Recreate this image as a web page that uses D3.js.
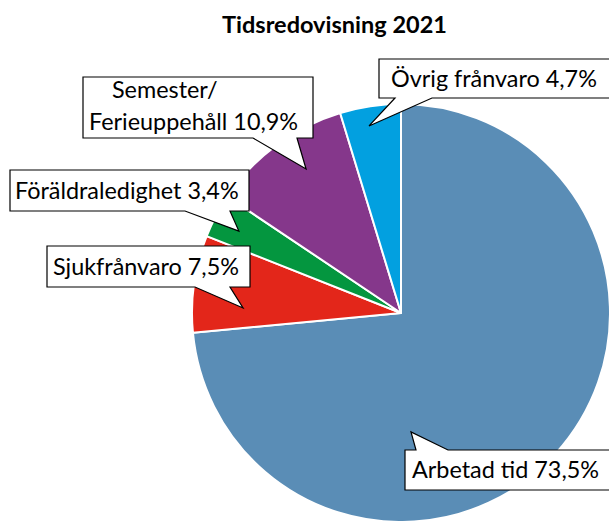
<!DOCTYPE html>
<html>
<head>
<meta charset="utf-8">
<title>Tidsredovisning 2021</title>
<script src="https://cdn.jsdelivr.net/npm/d3@7"></script>
<style>
  body { margin: 0; background: #fff; }
  text { font-family: Lato, "Open Sans", sans-serif; fill: #000; }
</style>
</head>
<body>
<script>

// data
var categories = ["Arbetad tid", "Sjukfrånvaro", "Föräldraledighet", "Semester/\nFerieuppehåll", "Övrig frånvaro"];
var values = [73.5, 7.5, 3.4, 10.9, 4.7];
var colors = ["#5a8db6", "#e3261a", "#04963f", "#85378b", "#02a0e0"];

// callout layout (box, pointer base on box edge, tip as angle/radius of the pie)
var callouts = [
  {x: 405, y: 450, w: 220, h: 40, edge: "top",    b0: 416, b1: 448, ang: 175.2, rf: 0.571, tx: 7,  lines: 1},
  {x: 47,  y: 246, w: 203, h: 41, edge: "bottom", b0: 195, b1: 230, ang: 271.8, rf: 0.756, tx: 6,  lines: 1},
  {x: 10,  y: 170, w: 239, h: 41, edge: "bottom", b0: 185, b1: 230, ang: 296.8, rf: 0.869, tx: 5,  lines: 1},
  {x: 83,  y: 77,  w: 230, h: 61, edge: "bottom", b0: 253, b1: 297, ang: 326.6, rf: 0.825, tx: 6,  lines: 2},
  {x: 379, y: 59,  w: 240, h: 39, edge: "bottom", b0: 395, b1: 432, ang: 350.3, rf: 0.908, tx: 12, lines: 1}
];

var width = 609, height = 521;
var cx = 401, cy = 313, radius = 209;
var fontSize = "23.4px";

var fmt = function(v) { return d3.format(".1f")(v).replace(".", ",") + "%"; };

var svg = d3.select("body")
  .append("svg")
    .attr("width", width)
    .attr("height", height);

svg.append("text")
  .attr("x", 334.5)
  .attr("y", 33)
  .attr("text-anchor", "middle")
  .style("font-weight", "bold")
  .style("font-size", "23.5px")
  .text("Tidsredovisning 2021");

var pie = d3.pie().sort(null).value(function(d) { return d; });
var arc = d3.arc().innerRadius(0).outerRadius(radius);
var arcs = pie(values);

var g = svg.append("g")
  .attr("transform", "translate(" + cx + "," + cy + ")");

g.selectAll("path.slice")
  .data(arcs)
  .enter().append("path")
    .attr("class", "slice")
    .attr("d", arc)
    .attr("fill", function(d, i) { return colors[i]; })
    .attr("stroke", "#fff")
    .attr("stroke-width", 2)
    .attr("stroke-linejoin", "round");

// callouts
callouts.forEach(function(c, i) {
  var p = d3.pointRadial(c.ang * Math.PI / 180, c.rf * radius);
  var tx = cx + p[0], ty = cy + p[1];
  var path;
  if (c.edge == "top") {
    path = "M" + c.x + "," + c.y + "L" + c.b0 + "," + c.y + "L" + tx + "," + ty +
      "L" + c.b1 + "," + c.y + "L" + (c.x + c.w) + "," + c.y + "L" + (c.x + c.w) + "," + (c.y + c.h) +
      "L" + c.x + "," + (c.y + c.h) + "Z";
  } else {
    path = "M" + c.x + "," + c.y + "L" + (c.x + c.w) + "," + c.y + "L" + (c.x + c.w) + "," + (c.y + c.h) +
      "L" + c.b1 + "," + (c.y + c.h) + "L" + tx + "," + ty + "L" + c.b0 + "," + (c.y + c.h) +
      "L" + c.x + "," + (c.y + c.h) + "Z";
  }
  svg.append("path")
    .attr("d", path)
    .attr("fill", "#fff")
    .attr("stroke", "#000")
    .attr("stroke-width", 1.2)
    .attr("stroke-linejoin", "miter");

  var parts = categories[i].split("\n");
  parts[parts.length - 1] += " " + fmt(values[i]);
  if (parts.length == 1) {
    svg.append("text")
      .attr("x", c.x + c.tx)
      .attr("y", c.y + c.h / 2 + 8.3)
      .style("font-size", fontSize)
      .text(parts[0]);
  } else {
    svg.append("text")
      .attr("x", c.x + 29)
      .attr("y", c.y + 21)
      .style("font-size", fontSize)
      .text(parts[0]);
    svg.append("text")
      .attr("x", c.x + c.tx)
      .attr("y", c.y + 53)
      .style("font-size", fontSize)
      .text(parts[1]);
  }
});

</script>
</body>
</html>
